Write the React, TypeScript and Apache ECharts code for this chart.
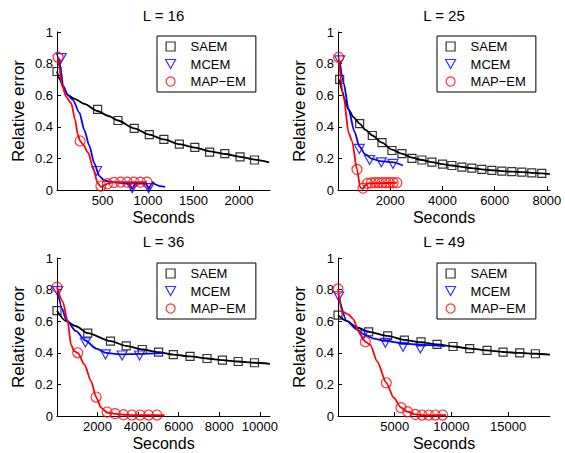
import React, { useEffect, useRef } from 'react';
import * as echarts from 'echarts';

const FONT = '"Liberation Sans", Arial, Helvetica, sans-serif';

const panelTitles = ['L = 16', 'L = 25', 'L = 36', 'L = 49'];
const xMax = [2340, 8120, 10500, 18700];
const xTickValues = [
  [500, 1000, 1500, 2000],
  [2000, 4000, 6000, 8000],
  [2000, 4000, 6000, 8000, 10000],
  [5000, 10000, 15000],
];
const yTickValues = [0, 0.2, 0.4, 0.6, 0.8, 1];
const legendNames = ['SAEM', 'MCEM', 'MAP\u2212EM'];

// ---- L = 16 ----
const saem16Line: [number, number][] = [[0, 0.75], [30, 0.7], [70, 0.65], [120, 0.6], [200, 0.575], [300, 0.545], [446, 0.5], [560, 0.47], [670, 0.44], [848, 0.39], [1014, 0.35], [1174, 0.32], [1344, 0.29], [1514, 0.268], [1677, 0.245], [1844, 0.228], [2011, 0.21], [2170, 0.192], [2330, 0.175]];
const saem16Marks: [number, number][] = [[0, 0.75], [446, 0.51], [670, 0.44], [848, 0.39], [1014, 0.35], [1174, 0.32], [1344, 0.29], [1514, 0.27], [1677, 0.24], [1844, 0.23], [2011, 0.21], [2170, 0.19]];
const mcem16Line: [number, number][] = [[25, 0.83], [45, 0.75], [65, 0.66], [120, 0.6], [174, 0.57], [246, 0.49], [300, 0.38], [355, 0.28], [409, 0.17], [464, 0.09], [518, 0.06], [600, 0.05], [700, 0.045], [790, 0.04], [826, 0.005], [860, 0.04], [980, 0.04], [1007, 0.005], [1030, 0.03], [1050, 0.05], [1080, 0.035], [1130, 0.025], [1188, 0.02]];
const mcem16Marks: [number, number][] = [[47, 0.835], [435, 0.12], [826, 0.012], [1007, 0.012]];
const mapem16Line: [number, number][] = [[11, 0.84], [30, 0.76], [47, 0.68], [101, 0.59], [156, 0.55], [199, 0.445], [228, 0.35], [254, 0.31], [283, 0.29], [344, 0.235], [391, 0.15], [446, 0.045], [482, 0.02], [520, 0.03], [554, 0.04], [620, 0.05], [989, 0.05]];
const mapem16Marks: [number, number][] = [[11, 0.84], [254, 0.31], [482, 0.025], [554, 0.04], [626, 0.048], [699, 0.05], [771, 0.05], [844, 0.05], [917, 0.05], [989, 0.05]];

// ---- L = 25 ----
const saem25Line: [number, number][] = [[64, 0.7], [150, 0.63], [250, 0.575], [400, 0.51], [600, 0.46], [829, 0.42], [1050, 0.38], [1314, 0.345], [1684, 0.3], [2066, 0.255], [2449, 0.23], [2832, 0.205], [3214, 0.19], [3597, 0.176], [4005, 0.164], [4362, 0.155], [4745, 0.146], [5128, 0.139], [5510, 0.131], [5893, 0.125], [6276, 0.12], [6658, 0.116], [7041, 0.113], [7423, 0.109], [7806, 0.105], [8120, 0.1]];
const saem25Marks: [number, number][] = [[64, 0.7], [829, 0.42], [1314, 0.345], [1684, 0.3], [2066, 0.25], [2449, 0.23], [2832, 0.2], [3214, 0.19], [3597, 0.176], [4005, 0.164], [4362, 0.155], [4745, 0.145], [5128, 0.139], [5510, 0.13], [5893, 0.124], [6276, 0.12], [6658, 0.116], [7041, 0.113], [7423, 0.109], [7806, 0.105]];
const mcem25Line: [number, number][] = [[64, 0.82], [217, 0.676], [408, 0.508], [625, 0.372], [816, 0.277], [1046, 0.225], [1301, 0.197], [1620, 0.183], [2066, 0.176], [2487, 0.155]];
const mcem25Marks: [number, number][] = [[64, 0.82], [816, 0.26], [1212, 0.19], [1658, 0.175], [2105, 0.165]];
const mapem25Line: [number, number][] = [[25, 0.84], [217, 0.59], [408, 0.36], [536, 0.31], [727, 0.13], [855, 0.015], [957, 0.008], [1050, 0.03], [1135, 0.042], [2258, 0.046]];
const mapem25Marks: [number, number][] = [[25, 0.84], [727, 0.13], [957, 0.012], [1135, 0.042], [1275, 0.045], [1415, 0.046], [1555, 0.046], [1695, 0.046], [1835, 0.046], [1975, 0.046], [2115, 0.046], [2255, 0.046]];

// ---- L = 36 ----
const saem36Line: [number, number][] = [[0, 0.667], [445, 0.6], [940, 0.568], [1516, 0.524], [2636, 0.474], [3410, 0.444], [4200, 0.421], [5008, 0.404], [5733, 0.389], [6557, 0.377], [7397, 0.364], [8155, 0.354], [8930, 0.345], [9736, 0.337], [10494, 0.33]];
const saem36Marks: [number, number][] = [[0, 0.667], [1516, 0.524], [2636, 0.474], [3410, 0.444], [4200, 0.421], [5008, 0.404], [5733, 0.389], [6557, 0.377], [7397, 0.364], [8155, 0.354], [8930, 0.345], [9736, 0.337]];
const mcem36Line: [number, number][] = [[33, 0.79], [250, 0.68], [445, 0.61], [940, 0.537], [1400, 0.478], [1930, 0.427], [2420, 0.4], [3080, 0.39], [4070, 0.393], [5300, 0.4]];
const mcem36Marks: [number, number][] = [[33, 0.79], [1400, 0.465], [2390, 0.39], [3210, 0.383], [4070, 0.383]];
const mapem36Line: [number, number][] = [[0, 0.815], [280, 0.726], [527, 0.6], [692, 0.45], [850, 0.41], [1021, 0.4], [1351, 0.326], [1680, 0.22], [1927, 0.12], [2174, 0.053], [2470, 0.022], [2866, 0.013], [3278, 0.008], [3690, 0.006], [5300, 0.006]];
const mapem36Marks: [number, number][] = [[0, 0.815], [1021, 0.4], [1927, 0.12], [2470, 0.025], [2866, 0.015], [3278, 0.008], [3690, 0.006], [4100, 0.006], [4514, 0.006], [4926, 0.006]];

// ---- L = 49 ----
const saem49Line: [number, number][] = [[0, 0.638], [800, 0.6], [1676, 0.56], [2706, 0.533], [4382, 0.507], [5853, 0.482], [7323, 0.467], [8735, 0.453], [10147, 0.44], [11618, 0.427], [13147, 0.415], [14559, 0.405], [16029, 0.399], [17412, 0.394], [18700, 0.388]];
const saem49Marks: [number, number][] = [[0, 0.638], [2706, 0.533], [4382, 0.507], [5853, 0.48], [7323, 0.469], [8735, 0.453], [10147, 0.44], [11618, 0.427], [13147, 0.415], [14559, 0.404], [16029, 0.4], [17412, 0.394]];
const mcem49Line: [number, number][] = [[60, 0.758], [794, 0.6], [1676, 0.547], [2206, 0.52], [3147, 0.49], [4176, 0.475], [5735, 0.46], [7265, 0.45], [9470, 0.442]];
const mcem49Marks: [number, number][] = [[60, 0.758], [2206, 0.51], [4176, 0.463], [5735, 0.438], [7265, 0.427]];
const mapem49Line: [number, number][] = [[0, 0.804], [353, 0.663], [941, 0.642], [1324, 0.615], [1824, 0.537], [2412, 0.47], [2853, 0.45], [3441, 0.347], [4265, 0.21], [4912, 0.116], [5559, 0.053], [6147, 0.027], [6824, 0.01], [7412, 0.006], [9529, 0.006]];
const mapem49Marks: [number, number][] = [[0, 0.804], [2412, 0.47], [4265, 0.21], [5559, 0.053], [6147, 0.027], [6824, 0.01], [7412, 0.006], [8000, 0.006], [8588, 0.006], [9235, 0.006]];

const panels = [
  { saemLine: saem16Line, saemMarks: saem16Marks, mcemLine: mcem16Line, mcemMarks: mcem16Marks, mapLine: mapem16Line, mapMarks: mapem16Marks },
  { saemLine: saem25Line, saemMarks: saem25Marks, mcemLine: mcem25Line, mcemMarks: mcem25Marks, mapLine: mapem25Line, mapMarks: mapem25Marks },
  { saemLine: saem36Line, saemMarks: saem36Marks, mcemLine: mcem36Line, mcemMarks: mcem36Marks, mapLine: mapem36Line, mapMarks: mapem36Marks },
  { saemLine: saem49Line, saemMarks: saem49Marks, mcemLine: mcem49Line, mcemMarks: mcem49Marks, mapLine: mapem49Line, mapMarks: mapem49Marks },
];

// layout (pixels)
const grids = [
  { left: 57, top: 32, width: 213, height: 158 },
  { left: 338, top: 32, width: 212, height: 158 },
  { left: 57, top: 258, width: 213, height: 158 },
  { left: 338, top: 258, width: 212, height: 158 },
];
const legendPos = [
  [157, 36],
  [437, 36],
  [157, 263],
  [437, 263],
];

const BLACK = '#000000';
const BLUE = '#0000ff';
const RED = '#ff0000';
const TRI = 'path://M0,0L10,0L5,9Z';
const SQUARE = 'path://M0,0L10,0L10,10L0,10Z';

export default function App() {
  const ref = useRef<HTMLDivElement>(null);
  useEffect(() => {
    if (!ref.current) return;
    const chart = echarts.init(ref.current, undefined, { renderer: 'svg' });
    const series: any[] = [];
    panels.forEach((p, i) => {
      const lineCommon = {
        type: 'line',
        xAxisIndex: i,
        yAxisIndex: i,
        symbol: 'none',
        showSymbol: false,
        smooth: 0.25,
        smoothMonotone: 'x',
        silent: true,
      };
      const scatterCommon = {
        type: 'scatter',
        xAxisIndex: i,
        yAxisIndex: i,
        silent: true,
      };
      series.push({ ...lineCommon, name: 'SAEM line', data: p.saemLine, lineStyle: { color: BLACK, width: 1.8 }, itemStyle: { color: BLACK }, z: 2 });
      series.push({ ...scatterCommon, name: 'SAEM', data: p.saemMarks, symbol: 'rect', symbolSize: 8, itemStyle: { color: 'transparent', borderColor: BLACK, borderWidth: 1.2 }, z: 3 });
      series.push({ ...lineCommon, name: 'MCEM line', data: p.mcemLine, lineStyle: { color: BLUE, width: 1.8 }, itemStyle: { color: BLUE }, z: 4 });
      series.push({ ...scatterCommon, name: 'MCEM', data: p.mcemMarks, symbol: TRI, symbolSize: [10, 9], itemStyle: { color: 'transparent', borderColor: BLUE, borderWidth: 1.2 }, z: 5 });
      series.push({ ...lineCommon, name: 'MAP\u2212EM line', data: p.mapLine, lineStyle: { color: RED, width: 1.8 }, itemStyle: { color: RED }, z: 6 });
      series.push({ ...scatterCommon, name: 'MAP\u2212EM', data: p.mapMarks, symbol: 'circle', symbolSize: 10, itemStyle: { color: 'transparent', borderColor: RED, borderWidth: 1.2 }, z: 7 });
    });

    const legendItemStyles = [
      { color: 'transparent', borderColor: BLACK, borderWidth: 1.2 },
      { color: 'transparent', borderColor: BLUE, borderWidth: 1.2 },
      { color: 'transparent', borderColor: RED, borderWidth: 1.2 },
    ];
    const legendIcons = [SQUARE, TRI, 'circle'];

    chart.setOption({
      animation: false,
      textStyle: { fontFamily: FONT },
      grid: grids.map((g) => ({ ...g, containLabel: false })),
      xAxis: grids.map((_, i) => ({
        type: 'value',
        gridIndex: i,
        min: 0,
        max: xMax[i],
        axisLine: { show: true, onZero: false, lineStyle: { color: BLACK, width: 1 } },
        axisTick: { show: true, inside: true, length: 4, customValues: xTickValues[i], lineStyle: { color: BLACK } },
        axisLabel: { customValues: xTickValues[i], color: BLACK, fontSize: 13, margin: 4, fontFamily: FONT, formatter: (v: number) => String(v) },
        splitLine: { show: false },
        name: 'Seconds',
        nameLocation: 'middle',
        nameGap: 19,
        nameTextStyle: { fontSize: 16, color: BLACK, fontFamily: FONT },
      })),
      yAxis: grids.map((_, i) => ({
        type: 'value',
        gridIndex: i,
        min: 0,
        max: 1,
        interval: 0.2,
        axisLine: { show: true, onZero: false, lineStyle: { color: BLACK, width: 1 } },
        axisTick: { show: true, inside: true, length: 4, customValues: yTickValues, lineStyle: { color: BLACK } },
        axisLabel: { customValues: yTickValues, color: BLACK, fontSize: 13, margin: 4, fontFamily: FONT, formatter: (v: number) => String(v) },
        splitLine: { show: false },
        name: 'Relative error',
        nameLocation: 'middle',
        nameGap: 30,
        nameTextStyle: { fontSize: 17, color: BLACK, fontFamily: FONT },
      })),
      legend: legendPos.map(([l, t]) => ({
        data: legendNames.map((n, k) => ({ name: n, icon: legendIcons[k], itemStyle: legendItemStyles[k] })),
        left: l,
        top: t,
        orient: 'vertical',
        padding: [4, 10, 4, 8],
        itemWidth: 30,
        itemHeight: 9,
        itemGap: 4.5,
        symbolKeepAspect: true,
        borderColor: BLACK,
        borderWidth: 1,
        borderRadius: 0,
        backgroundColor: '#ffffff',
        selectedMode: false,
        textStyle: { fontSize: 13, color: BLACK, fontFamily: FONT },
      })),
      graphic: grids.map((g, i) => ({
        type: 'text',
        x: g.left + g.width / 2,
        y: g.top - 17,
        style: { text: panelTitles[i], fill: BLACK, font: `15px ${FONT}`, align: 'center', verticalAlign: 'middle' },
      })),
      series,
    });
    return () => chart.dispose();
  }, []);
  return <div ref={ref} style={{ position: 'absolute', left: 0, top: 0, width: 565, height: 453, background: '#fff' }} />;
}
